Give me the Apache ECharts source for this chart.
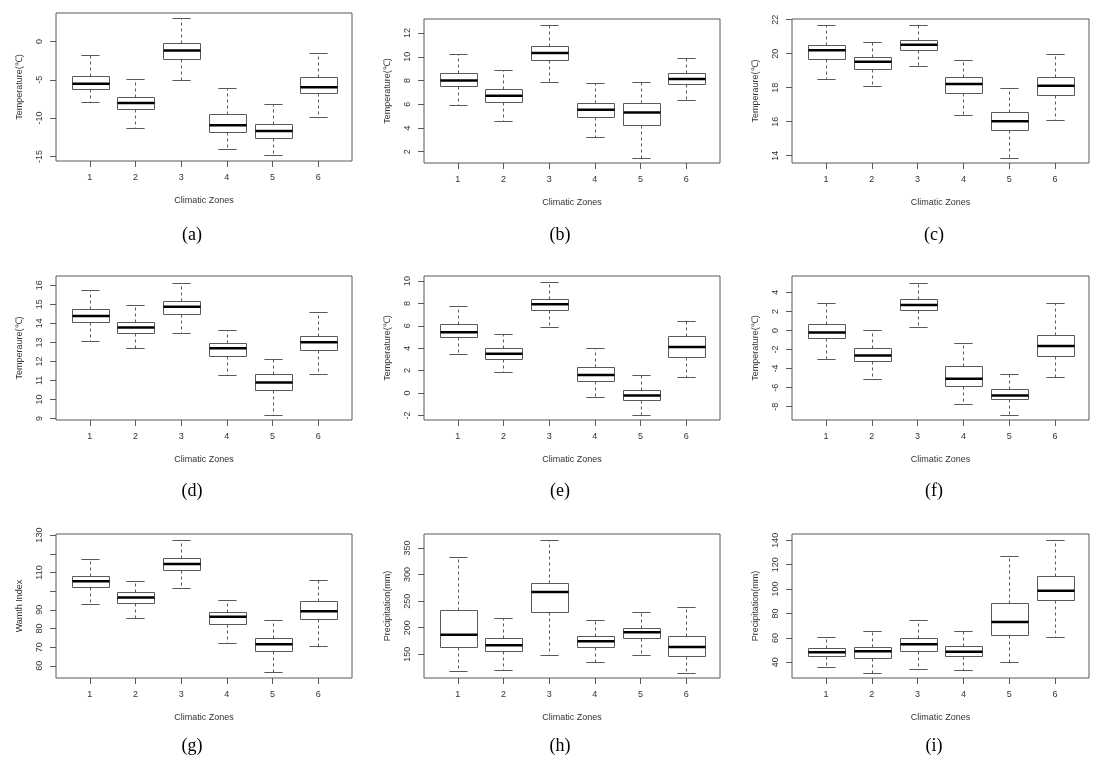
<!DOCTYPE html>
<html>
<head>
<meta charset="utf-8">
<script src="https://cdn.jsdelivr.net/npm/echarts@6/dist/echarts.min.js"></script>
<style>
html,body{margin:0;padding:0;background:#ffffff;}
#chart{width:1099px;height:765px;}
</style>
</head>
<body>
<div id="chart"></div>
<script>
// ---------------- DATA ----------------
const zones = [1, 2, 3, 4, 5, 6];
const xAxisTitle = 'Climatic Zones';
// each row: [lower whisker, Q1, median, Q3, upper whisker] for zones 1..6
const panelA = [[-7.93,-6.24,-5.5,-4.46,-1.82],[-11.31,-8.84,-8.02,-7.28,-4.94],[-5.07,-2.34,-1.17,-0.17,3.12],[-14.04,-11.83,-10.92,-9.49,-6.11],[-14.82,-12.61,-11.7,-10.79,-8.19],[-9.88,-6.76,-5.98,-4.68,-1.56]];
const panelB = [[5.93,7.53,8.01,8.63,10.26],[4.58,6.19,6.72,7.28,8.88],[7.87,9.72,10.31,10.9,12.67],[3.24,4.92,5.54,6.1,7.79],[1.47,4.25,5.31,6.07,7.87],[6.38,7.7,8.12,8.63,9.89]];
const panelC = [[18.51,19.69,20.2,20.51,21.69],[18.1,19.1,19.53,19.8,20.69],[19.27,20.22,20.53,20.8,21.71],[16.39,17.69,18.22,18.63,19.63],[13.86,15.53,16.02,16.57,17.96],[16.12,17.57,18.12,18.61,19.98]];
const panelD = [[13.08,14.07,14.39,14.77,15.77],[12.69,13.48,13.78,14.06,14.95],[13.48,14.48,14.88,15.16,16.14],[11.26,12.27,12.69,12.99,13.67],[9.18,10.49,10.89,11.36,12.15],[11.36,12.6,13.01,13.36,14.58]];
const panelE = [[3.47,4.98,5.43,6.14,7.74],[1.86,3.08,3.5,4.0,5.25],[5.87,7.39,7.92,8.37,9.88],[-0.34,1.1,1.6,2.31,4.0],[-1.94,-0.63,-0.22,0.3,1.6],[1.42,3.2,4.12,5.13,6.47]];
const panelF = [[-3.01,-0.81,-0.22,0.65,2.92],[-5.1,-3.22,-2.63,-1.86,0.02],[0.34,2.12,2.67,3.27,5.01],[-7.72,-5.84,-5.07,-3.74,-1.34],[-8.84,-7.2,-6.81,-6.15,-4.6],[-4.89,-2.7,-1.62,-0.43,2.92]];
const panelG = [[93.2,102.2,105.3,108.1,117.1],[85.7,93.8,96.6,99.4,105.4],[101.9,111.3,114.5,117.6,127.2],[72.5,82.6,86.3,89.0,95.3],[56.6,67.7,71.6,75.0,84.7],[70.9,85.3,89.3,94.6,106.0]];
const panelH = [[119,164.3,186.9,233.1,333],[121,156.7,166.8,180.6,218.8],[149.6,229.8,267.1,284.8,365.4],[134.9,164.3,174.4,185.1,215.1],[149.4,181.3,191.4,199.5,230.3],[115.5,147.5,163.8,185.1,239.7]];
const panelI = [[36.2,45.5,48.2,52.0,61.0],[31.5,43.8,49.0,52.8,66.0],[34.8,49.6,54.8,60.0,75.0],[34.0,45.5,48.7,53.7,66.0],[40.5,62.7,73.1,88.9,127.4],[61.0,91.4,98.7,110.8,140.5]];

const yTitles = ['Temperature(\u2103)','Temperature(\u2103)','Temperaure(\u2103)','Temperaure(\u2103)','Temperature(\u2103)','Temperature(\u2103)','Wamth Index','Precipitation(mm)','Precipitation(mm)'];
const captions = ['(a)','(b)','(c)','(d)','(e)','(f)','(g)','(h)','(i)'];

// y axis ranges [min, max]
const yRangeA = [-15.6, 3.72], yRangeB = [1.05, 13.18], yRangeC = [13.57, 22.04];
const yRangeD = [8.92, 16.49], yRangeE = [-2.41, 10.45], yRangeF = [-9.39, 5.71];
const yRangeG = [53.5, 130.6], yRangeH = [105.4, 376.3], yRangeI = [27.1, 145.2];

// y tick values and labelled tick values
const yTicksA = [-15,-10,-5,0], yTicksB = [2,4,6,8,10,12], yTicksC = [14,16,18,20,22];
const yTicksD = [9,10,11,12,13,14,15,16], yTicksE = [-2,0,2,4,6,8,10], yTicksF = [-8,-6,-4,-2,0,2,4];
const yTicksG = [60,70,80,90,100,110,120,130], yLabelsG = [60,70,80,90,110,130];
const yTicksH = [150,200,250,300,350], yTicksI = [40,60,80,100,120,140];

const panels = [
  {data: panelA, range: yRangeA, ticks: yTicksA, labels: yTicksA},
  {data: panelB, range: yRangeB, ticks: yTicksB, labels: yTicksB},
  {data: panelC, range: yRangeC, ticks: yTicksC, labels: yTicksC},
  {data: panelD, range: yRangeD, ticks: yTicksD, labels: yTicksD},
  {data: panelE, range: yRangeE, ticks: yTicksE, labels: yTicksE},
  {data: panelF, range: yRangeF, ticks: yTicksF, labels: yTicksF},
  {data: panelG, range: yRangeG, ticks: yTicksG, labels: yLabelsG},
  {data: panelH, range: yRangeH, ticks: yTicksH, labels: yTicksH},
  {data: panelI, range: yRangeI, ticks: yTicksI, labels: yTicksI}
];

// ---------------- LAYOUT ----------------
const frames = [
  [56, 13, 296, 148], [424, 19, 296, 144], [792, 19, 297, 144],
  [56, 276, 296, 144], [424, 276, 296, 144], [792, 276, 297, 144],
  [56, 534, 296, 144], [424, 534, 296, 144], [792, 534, 297, 144]
];
const capPos = [[192,235],[560,235],[934,235],[192,491],[560,491],[934,491],[192,746],[560,746],[934,746]];

const GRAY = '#595959';
const TXT = '#333333';
const FONT = '"Liberation Sans", Arial, sans-serif';

function renderBox(params, api) {
  const x = api.value(0);
  const lo = api.value(1), q1 = api.value(2), md = api.value(3), q3 = api.value(4), hi = api.value(5);
  const pMd = api.coord([x, md]);
  const half = api.size([0.4, 0])[0];
  const capHalf = api.size([0.2, 0])[0];
  const cx = Math.round(pMd[0]) + 0.5;
  const py = v => Math.round(api.coord([x, v])[1]) + 0.5;
  const yLo = py(lo), yQ1 = py(q1), yQ3 = py(q3), yHi = py(hi);
  const yMd = pMd[1];
  const left = Math.round(cx - half) + 0.5, right = Math.round(cx + half) + 0.5;
  const thin = {stroke: GRAY, lineWidth: 1};
  const dash = {stroke: GRAY, lineWidth: 1, lineDash: [3, 3]};
  return {
    type: 'group',
    children: [
      {type: 'line', shape: {x1: cx, y1: yQ3, x2: cx, y2: yHi}, style: dash},
      {type: 'line', shape: {x1: cx, y1: yQ1, x2: cx, y2: yLo}, style: dash},
      {type: 'line', shape: {x1: cx - capHalf, y1: yHi, x2: cx + capHalf, y2: yHi}, style: thin},
      {type: 'line', shape: {x1: cx - capHalf, y1: yLo, x2: cx + capHalf, y2: yLo}, style: thin},
      {type: 'rect', shape: {x: left, y: yQ3, width: right - left, height: yQ1 - yQ3}, style: {fill: '#ffffff', stroke: GRAY, lineWidth: 1}},
      {type: 'line', shape: {x1: left, y1: yMd, x2: right, y2: yMd}, style: {stroke: '#000000', lineWidth: 2.5}}
    ]
  };
}

const grid = [], xAxis = [], yAxis = [], series = [];
panels.forEach((p, i) => {
  const f = frames[i];
  grid.push({left: f[0], top: f[1], width: f[2], height: f[3], show: true, borderColor: GRAY, borderWidth: 1, backgroundColor: 'transparent', containLabel: false});
  xAxis.push({
    gridIndex: i, type: 'value', min: 0.26, max: 6.74, position: 'bottom',
    axisLine: {show: false, onZero: false}, splitLine: {show: false},
    axisTick: {show: true, length: 6, customValues: zones, lineStyle: {color: GRAY}},
    axisLabel: {customValues: zones, margin: 12, fontSize: 9, color: TXT, fontFamily: FONT},
    name: xAxisTitle, nameLocation: 'middle', nameGap: 35,
    nameTextStyle: {fontSize: 9, color: TXT, fontFamily: FONT}
  });
  yAxis.push({
    gridIndex: i, type: 'value', min: p.range[0], max: p.range[1], position: 'left',
    axisLine: {show: false, onZero: false}, splitLine: {show: false},
    axisTick: {show: true, length: 6, customValues: p.ticks, lineStyle: {color: GRAY}},
    axisLabel: {customValues: p.labels, rotate: 90, margin: 12, fontSize: 9, color: TXT, fontFamily: FONT},
    name: yTitles[i], nameLocation: 'middle', nameGap: 32, nameRotate: 90,
    nameTextStyle: {fontSize: 9, color: TXT, fontFamily: FONT}
  });
  series.push({
    type: 'custom', coordinateSystem: 'cartesian2d', xAxisIndex: i, yAxisIndex: i,
    data: zones.map((z, k) => [z].concat(p.data[k])),
    encode: {x: 0, y: [1, 2, 3, 4, 5]},
    renderItem: renderBox, silent: true, clip: false
  });
});

const graphic = captions.map((t, i) => ({
  type: 'text', x: capPos[i][0], y: capPos[i][1],
  style: {text: t, font: '18px "Liberation Serif", "Times New Roman", serif', fill: '#000000', align: 'center', verticalAlign: 'middle'}
}));

const chart = echarts.init(document.getElementById('chart'), null, {renderer: 'canvas'});
chart.setOption({
  backgroundColor: '#ffffff',
  animation: false,
  grid, xAxis, yAxis, series, graphic
});
</script>
</body>
</html>
